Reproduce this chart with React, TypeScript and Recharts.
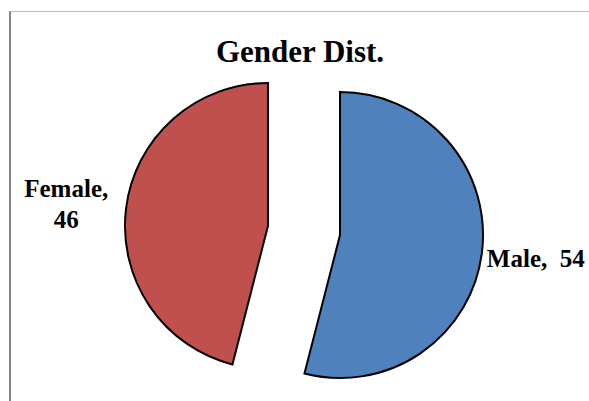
import React from 'react';
import { PieChart, Pie, Cell } from 'recharts';

// Gender breakdown shown as an exploded pie
const categories = ['Male', 'Female'];
const counts = [54, 46];
const sliceColors = ['#4F81BD', '#C0504D'];
const chartTitle = 'Gender Dist.';

const W = 589;
const H = 401;
const CENTER_X = 304;
const CENTER_Y = 230.5;
const RADIUS = 143;
const EXPLODE = 36.3;
const START = 90;
const END = -270;
const FONT = '"Liberation Serif", "Times New Roman", serif';

const rows = categories.map((name, i) => ({ name, value: counts[i] }));
const total = counts.reduce((a, b) => a + b, 0);

// mid-angle of each slice (degrees, counter-clockwise from 3 o'clock)
const midAngles = counts.map((v, i) => {
  const before = counts.slice(0, i).reduce((a, b) => a + b, 0);
  return START - (360 * (before + v / 2)) / total;
});

const RAD = Math.PI / 180;

const makeLabel = (slice: number) => (props: any) => {
  const { cx, cy, midAngle, outerRadius, index, name, value } = props;
  if (index !== slice) return null;
  const c = Math.cos(-midAngle * RAD);
  const s = Math.sin(-midAngle * RAD);
  if (c >= 0) {
    const px = cx + (outerRadius + 5) * c;
    const py = cy + (outerRadius + 5) * s;
    return (
      <text
        x={px}
        y={py + 13}
        textAnchor="start"
        fontFamily={FONT}
        fontWeight="bold"
        fontSize={25}
        fill="#000"
        style={{ whiteSpace: 'pre' }}
      >
        {`${name},  ${value}`}
      </text>
    );
  }
  const px = cx + (outerRadius + 17) * c;
  const py = cy + (outerRadius + 17) * s;
  return (
    <text
      x={px - 43}
      y={py - 8.7}
      textAnchor="middle"
      fontFamily={FONT}
      fontWeight="bold"
      fontSize={25}
      fill="#000"
    >
      <tspan x={px - 43}>{`${name},`}</tspan>
      <tspan x={px - 43} dy={31}>{`${value}`}</tspan>
    </text>
  );
};

export default function App() {
  return (
    <div
      style={{
        position: 'absolute',
        left: 0,
        top: 0,
        width: W,
        height: H,
        background: '#fff',
        overflow: 'hidden',
      }}
    >
      <div
        style={{
          position: 'absolute',
          left: 9,
          top: 11,
          width: W - 9,
          height: H,
          borderTop: '1px solid #bdbdbd',
          borderLeft: '2px solid #868686',
          boxSizing: 'border-box',
        }}
      />
      <div style={{ position: 'absolute', left: 0, top: 0 }}>
        <PieChart width={W} height={H} margin={{ top: 0, right: 0, bottom: 0, left: 0 }}>
          <text
            x={300}
            y={62}
            textAnchor="middle"
            fontFamily={FONT}
            fontWeight="bold"
            fontSize={31}
            fill="#000"
          >
            {chartTitle}
          </text>
          {categories.map((cat, i) => {
            const dx = EXPLODE * Math.cos(midAngles[i] * RAD);
            const dy = -EXPLODE * Math.sin(midAngles[i] * RAD);
            return (
              <Pie
                key={cat}
                data={rows}
                dataKey="value"
                nameKey="name"
                cx={CENTER_X + dx}
                cy={CENTER_Y + dy}
                outerRadius={RADIUS}
                startAngle={START}
                endAngle={END}
                isAnimationActive={false}
                labelLine={false}
                label={makeLabel(i)}
              >
                {rows.map((r, j) => (
                  <Cell
                    key={r.name}
                    fill={j === i ? sliceColors[j] : 'none'}
                    stroke={j === i ? '#000' : 'none'}
                    strokeWidth={2}
                  />
                ))}
              </Pie>
            );
          })}
        </PieChart>
      </div>
    </div>
  );
}
